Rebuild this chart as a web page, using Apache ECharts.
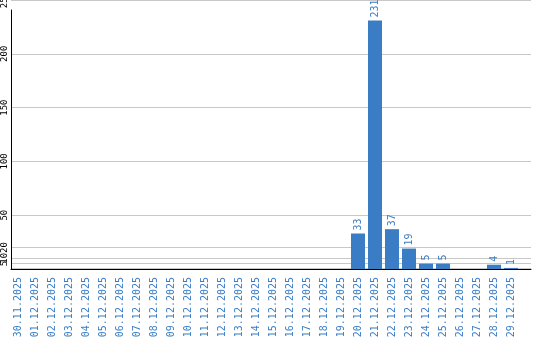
<!DOCTYPE html>
<html><head><meta charset="utf-8">
<script src="https://cdn.jsdelivr.net/npm/echarts@6/dist/echarts.min.js"></script>
<style>html,body{margin:0;padding:0;background:#fff}#c{width:540px;height:340px}</style>
</head><body><div id="c"></div>
<script>
const categories = ['30.11.2025','01.12.2025','02.12.2025','03.12.2025','04.12.2025','05.12.2025','06.12.2025','07.12.2025','08.12.2025','09.12.2025','10.12.2025','11.12.2025','12.12.2025','13.12.2025','14.12.2025','15.12.2025','16.12.2025','17.12.2025','18.12.2025','19.12.2025','20.12.2025','21.12.2025','22.12.2025','23.12.2025','24.12.2025','25.12.2025','26.12.2025','27.12.2025','28.12.2025','29.12.2025'];
const values = [0,0,0,0,0,0,0,0,0,0,0,0,0,0,0,0,0,0,0,0,33,231,37,19,5,5,0,0,4,1];
const yTicks = [1,5,10,20,50,100,150,200,250];

const blue = '#3b7dc4';
const mono = 'DejaVu Sans Mono';
const chart = echarts.init(document.getElementById('c'), null, {renderer:'canvas'});
chart.setOption({
  animation: false,
  grid: [
    {left: 11, right: 9, top: 0, bottom: 71, outerBoundsMode: 'none', containLabel: false},
    {left: 11, right: 9, top: 10, bottom: 71, outerBoundsMode: 'none', containLabel: false},
    {left: 9.5, width: 510, top: 0, bottom: 71, outerBoundsMode: 'none', containLabel: false}
  ],
  xAxis: [
    {gridIndex: 0, type: 'value', min: 0, max: 1, axisLine: {show: true, onZero: false, lineStyle: {color: '#000', width: 1}}, axisTick: {show: false}, axisLabel: {show: false}, splitLine: {show: false}},
    {gridIndex: 1, type: 'value', min: 0, max: 1, show: false},
    {gridIndex: 2, type: 'category', data: categories, axisLine: {show: false}, axisTick: {show: false}, splitLine: {show: false},
     axisLabel: {rotate: 90, interval: 0, margin: 8, color: blue, fontFamily: mono, fontSize: 10}}
  ],
  yAxis: [
    {gridIndex: 0, type: 'value', min: 0, max: 250, axisLine: {show: false},
     axisTick: {show: false, customValues: yTicks},
     axisLabel: {customValues: yTicks, rotate: 90, margin: 2, color: '#000', fontFamily: mono, fontSize: 9, hideOverlap: false},
     splitLine: {show: true, lineStyle: {color: '#c8c8c8', width: 1}}},
    {gridIndex: 1, type: 'value', min: 0, max: 240, axisLine: {show: true, lineStyle: {color: '#000', width: 1}}, axisTick: {show: false}, axisLabel: {show: false}, splitLine: {show: false}},
    {gridIndex: 2, type: 'value', min: 0, max: 250, show: false}
  ],
  series: [{
    type: 'bar', xAxisIndex: 2, yAxisIndex: 2, data: values, barWidth: 14,
    itemStyle: {color: blue},
    label: {show: true, position: 'top', rotate: 90, align: 'left', verticalAlign: 'middle', distance: 3,
      color: blue, fontFamily: mono, fontSize: 10,
      formatter: p => p.value ? String(p.value) : ''}
  }]
});
</script></body></html>
